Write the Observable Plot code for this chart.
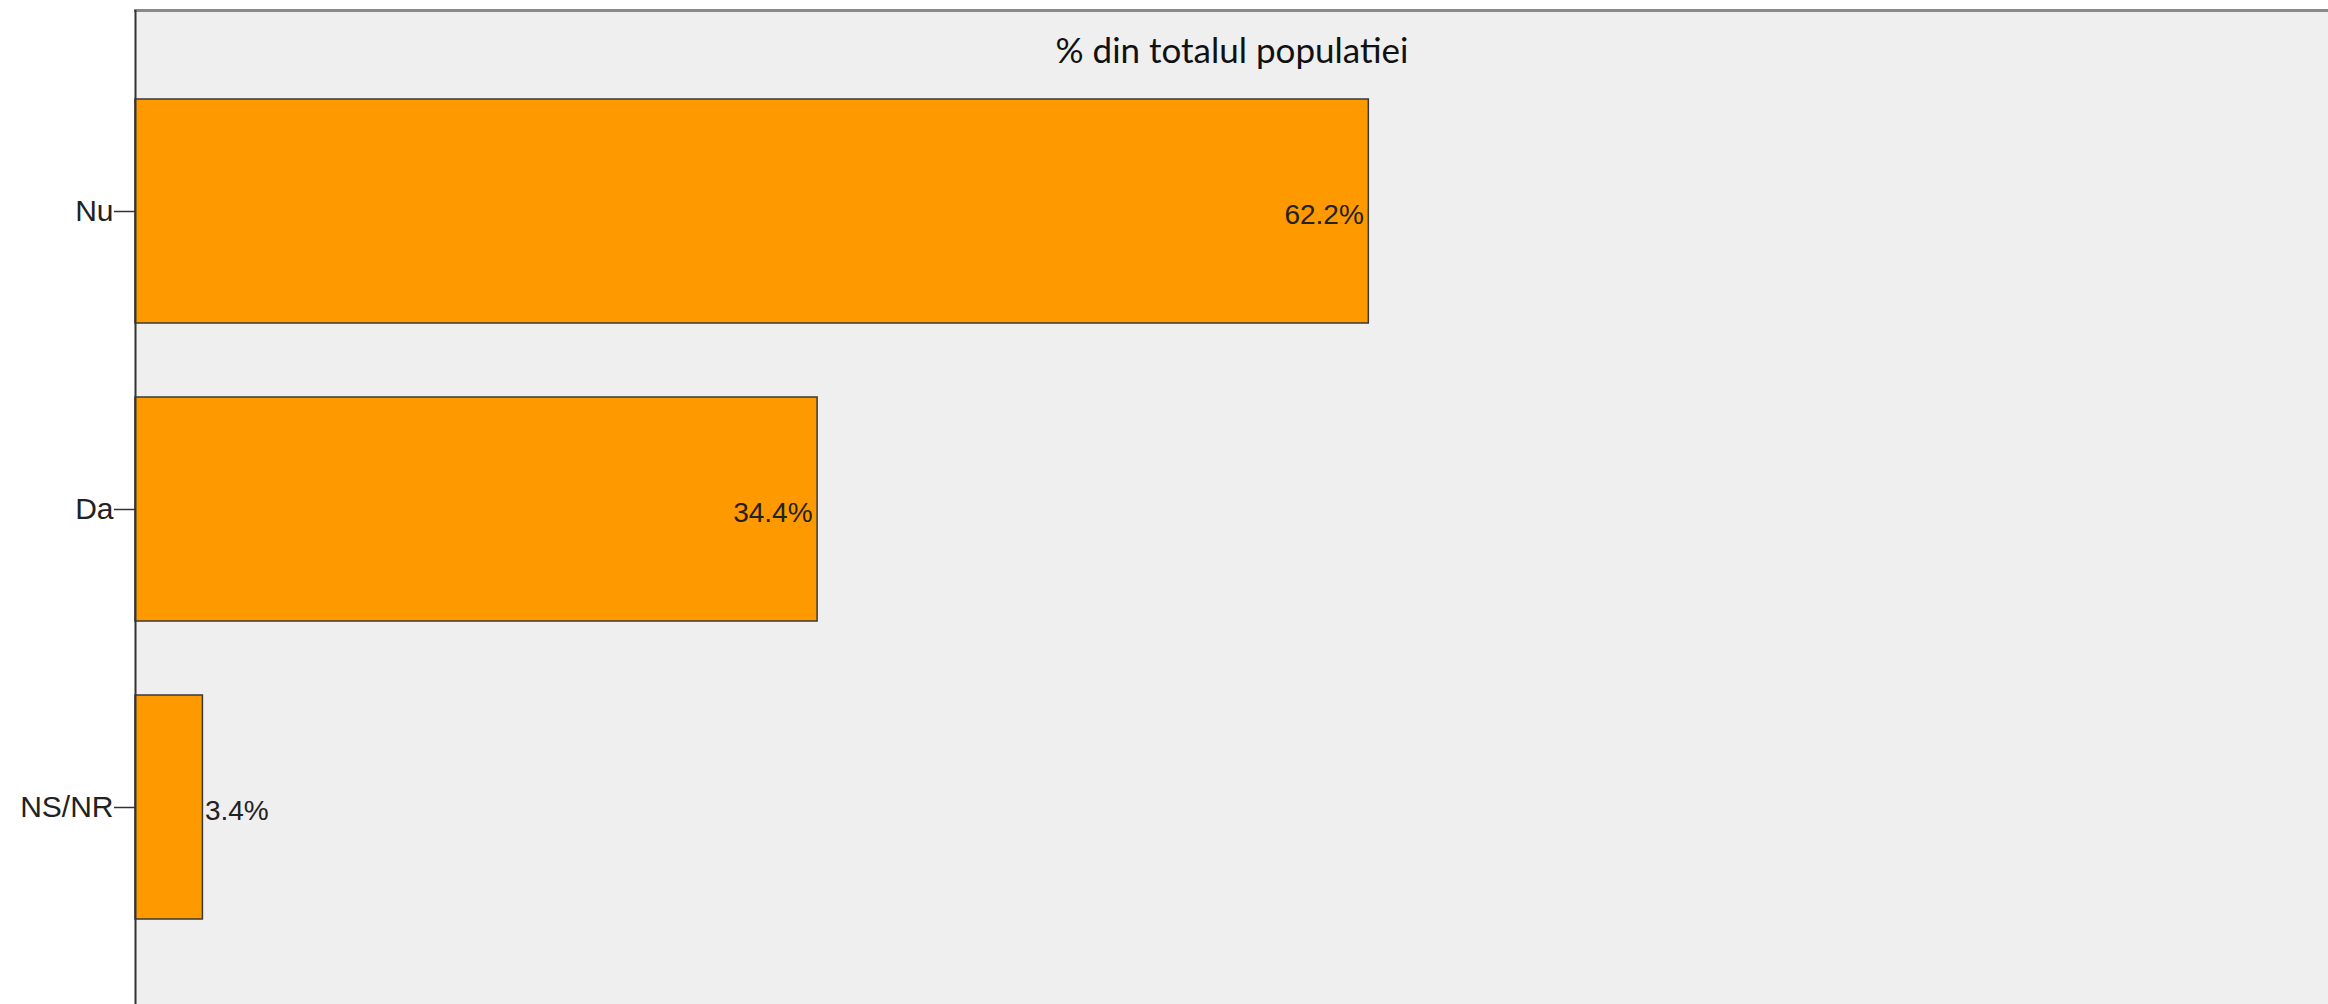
<!DOCTYPE html>
<html>
<head>
<meta charset="utf-8">
<script src="https://cdn.jsdelivr.net/npm/d3@7"></script>
<script src="https://cdn.jsdelivr.net/npm/@observablehq/plot@0.6"></script>
<style>
  html, body { margin: 0; padding: 0; background: #ffffff; }
  #chart svg { display: block; }
</style>
</head>
<body>
<div id="chart"></div>
<script>
const categories = ["Nu", "Da", "NS/NR"];
const values = [62.2, 34.4, 3.4];
const title = "% din totalul populatiei";

const data = categories.map((c, i) => ({cat: c, value: values[i]}));
const fmt = d => d.value.toFixed(1) + "%";

const chart = Plot.plot({
  width: 2328,
  height: 1004,
  marginLeft: 135,
  marginRight: 0,
  marginTop: 10,
  marginBottom: 0,
  style: {fontFamily: "'Liberation Sans', Arial, sans-serif", fontSize: "30px", color: "#222", background: "#ffffff"},
  x: {domain: [0, 110.6], axis: null},
  y: {domain: categories, range: [10, 1007], paddingInner: 0.25, paddingOuter: 0.295, label: null},
  marks: [
    Plot.frame({fill: "#efefef", stroke: null}),
    Plot.frame({anchor: "top", stroke: "#8a8a8a", strokeWidth: 3}),
    Plot.text([title], {frameAnchor: "top", dy: 28, fontSize: 35, fontFamily: "Lato, 'Open Sans', sans-serif", fill: "#111"}),
    Plot.barX(data, {x: "value", y: "cat", fill: "#ff9900", stroke: "#3a3a3a", strokeWidth: 1.5}),
    Plot.text(data.filter(d => d.value >= 10), {x: "value", y: "cat", text: fmt, textAnchor: "end", dx: -5, dy: 4, fontSize: 28, fill: "#222"}),
    Plot.text(data.filter(d => d.value < 10), {x: "value", y: "cat", text: fmt, textAnchor: "start", dx: 2, dy: 4, fontSize: 28, fill: "#222"}),
    Plot.ruleX([0], {stroke: "#333", strokeWidth: 2}),
    Plot.axisY({tickSize: 21, tickPadding: 1, fontSize: 30, stroke: "#333", strokeWidth: 1.5, fill: "#222", label: null})
  ]
});
document.getElementById("chart").appendChild(chart);
</script>
</body>
</html>
